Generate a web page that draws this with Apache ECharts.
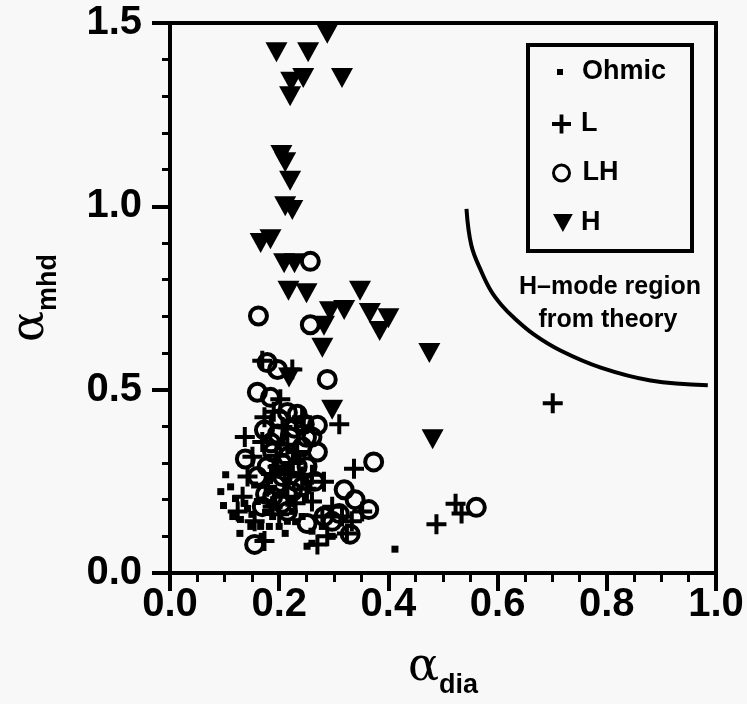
<!DOCTYPE html>
<html><head><meta charset="utf-8">
<script src="https://cdn.jsdelivr.net/npm/echarts@6/dist/echarts.min.js"></script>
<style>html,body{margin:0;padding:0;background:#f8f8f8}#c{width:747px;height:704px}</style>
</head><body><div id="c"></div>
<script>
// ---- data (alpha_dia, alpha_mhd) ----
const ohmicPts = [[0.102,0.268],[0.093,0.222],[0.111,0.235],[0.098,0.184],[0.120,0.203],[0.115,0.154],[0.129,0.146],[0.128,0.108],[0.148,0.127],[0.166,0.127],[0.182,0.127],[0.200,0.127],[0.211,0.108],[0.248,0.208],[0.260,0.081],[0.251,0.073],[0.412,0.065],[0.160,0.195],[0.178,0.222],[0.142,0.176],[0.224,0.168],[0.242,0.154],[0.188,0.154],[0.169,0.100],[0.215,0.141],[0.260,0.114],[0.297,0.100],[0.279,0.127],[0.137,0.190],[0.155,0.240],[0.190,0.200],[0.205,0.220],[0.230,0.140],[0.175,0.165],[0.150,0.160]];
const lPts = [[0.169,0.579],[0.224,0.555],[0.202,0.474],[0.173,0.425],[0.137,0.371],[0.310,0.406],[0.337,0.284],[0.282,0.249],[0.523,0.189],[0.534,0.162],[0.488,0.133],[0.701,0.463],[0.151,0.317],[0.142,0.263],[0.133,0.208],[0.124,0.168],[0.155,0.141],[0.173,0.087],[0.188,0.181],[0.215,0.208],[0.197,0.290],[0.233,0.330],[0.242,0.263],[0.260,0.268],[0.169,0.357],[0.206,0.398],[0.242,0.425],[0.178,0.235],[0.279,0.154],[0.288,0.100],[0.297,0.181],[0.315,0.154],[0.333,0.141],[0.324,0.108],[0.260,0.195],[0.352,0.168],[0.270,0.078],[0.190,0.440],[0.215,0.350],[0.225,0.300],[0.195,0.320],[0.250,0.230],[0.210,0.270],[0.185,0.270],[0.230,0.190],[0.200,0.160],[0.245,0.400]];
const lhPts = [[0.257,0.850],[0.162,0.701],[0.257,0.677],[0.288,0.528],[0.178,0.574],[0.197,0.555],[0.160,0.493],[0.184,0.479],[0.215,0.438],[0.233,0.433],[0.173,0.390],[0.197,0.379],[0.220,0.371],[0.246,0.406],[0.270,0.403],[0.138,0.311],[0.373,0.303],[0.155,0.078],[0.561,0.179],[0.188,0.330],[0.215,0.317],[0.242,0.344],[0.260,0.371],[0.178,0.290],[0.206,0.263],[0.233,0.290],[0.160,0.263],[0.224,0.222],[0.188,0.208],[0.251,0.290],[0.242,0.235],[0.169,0.181],[0.215,0.168],[0.270,0.330],[0.319,0.227],[0.339,0.200],[0.364,0.173],[0.310,0.162],[0.330,0.106],[0.282,0.154],[0.251,0.135],[0.297,0.141],[0.200,0.420],[0.228,0.395],[0.185,0.355],[0.250,0.370],[0.205,0.300],[0.230,0.250],[0.195,0.240],[0.265,0.250],[0.175,0.215],[0.205,0.190]];
const hPts = [[0.288,1.471],[0.195,1.42],[0.253,1.42],[0.315,1.35],[0.244,1.35],[0.222,1.34],[0.220,1.30],[0.204,1.14],[0.211,1.12],[0.220,1.07],[0.211,1.00],[0.224,0.99],[0.166,0.90],[0.184,0.91],[0.209,0.845],[0.228,0.845],[0.217,0.77],[0.250,0.763],[0.348,0.77],[0.293,0.714],[0.319,0.717],[0.366,0.709],[0.384,0.66],[0.40,0.695],[0.282,0.674],[0.279,0.614],[0.475,0.60],[0.218,0.533],[0.297,0.445],[0.481,0.365]];
const theoryCurve = [[0.543,0.993],[0.552,0.893],[0.570,0.823],[0.588,0.769],[0.607,0.731],[0.630,0.696],[0.667,0.650],[0.716,0.606],[0.789,0.560],[0.880,0.525],[0.985,0.512]];
const xTickLabels = ['0.0','0.2','0.4','0.6','0.8','1.0'];
const yTickLabels = ['0.0','0.5','1.0','1.5'];
const seriesNames = ['Ohmic','L','LH','H'];
const regionText = ['H\u2013mode region','from theory'];

const F = '"Liberation Sans", Arial, sans-serif';
const plusPath = 'path://M8,0L12,0L12,8L20,8L20,12L12,12L12,20L8,20L8,12L0,12L0,8L8,8Z';
const downTri = 'path://M0,0L22,0L11,20Z';
const chart = echarts.init(document.getElementById('c'));

function leg(name, icon, left, top, w, h, pad, itemStyle) {
  return {
    data: [{name: name, icon: icon}], left: left, top: top - 15, orient: 'vertical', padding: 0,
    itemWidth: w, itemHeight: h, selectedMode: false,
    itemStyle: itemStyle,
    textStyle: {fontFamily: F, fontWeight: 'bold', fontSize: 27, color: '#000', lineHeight: 30, padding: [0,0,0,pad]}
  };
}

const option = {
  backgroundColor: '#f8f8f8',
  animation: false,
  grid: {left: 167, right: 31, top: 23, bottom: 127, show: true, borderColor: '#000', borderWidth: 4},
  xAxis: {
    type: 'value', min: 0, max: 1, interval: 0.2,
    axisLine: {lineStyle: {color: '#000', width: 4}},
    axisTick: {length: 18, lineStyle: {color: '#000', width: 4}},
    minorTick: {show: true, splitNumber: 4, length: 9, lineStyle: {color: '#000', width: 3}},
    splitLine: {show: false},
    axisLabel: {formatter: v => xTickLabels[Math.round(v / 0.2)], fontFamily: F, fontWeight: 'bold', fontSize: 40, color: '#000', margin: 12},
    name: '{a|\u03b1}{s|dia}', nameLocation: 'middle', nameGap: 72,
    nameTextStyle: {rich: {
      a: {fontFamily: '"DejaVu Serif", serif', fontSize: 46, color: '#000', padding: [0,0,8,0]},
      s: {fontFamily: F, fontWeight: 'bold', fontSize: 27, color: '#000', verticalAlign: 'bottom'}
    }}
  },
  yAxis: {
    type: 'value', min: 0, max: 1.5, interval: 0.5,
    axisLine: {lineStyle: {color: '#000', width: 4}},
    axisTick: {length: 18, lineStyle: {color: '#000', width: 4}},
    minorTick: {show: true, splitNumber: 5, length: 8, lineStyle: {color: '#000', width: 3}},
    splitLine: {show: false},
    axisLabel: {formatter: v => yTickLabels[Math.round(v / 0.5)], fontFamily: F, fontWeight: 'bold', fontSize: 40, color: '#000', margin: 28},
    name: '{a|\u03b1}{s|mhd}', nameLocation: 'middle', nameGap: 108, nameRotate: 90,
    nameTextStyle: {rich: {
      a: {fontFamily: '"DejaVu Serif", serif', fontSize: 46, color: '#000', padding: [0,0,8,0]},
      s: {fontFamily: F, fontWeight: 'bold', fontSize: 27, color: '#000', verticalAlign: 'bottom'}
    }}
  },
  legend: [
    leg('Ohmic', 'rect', 557, 72, 6, 6, 14, {color: '#000', borderWidth: 0, opacity: 1}),
    leg('L', plusPath, 552, 124, 19, 19, 5, {color: '#000', borderWidth: 0, opacity: 1}),
    leg('LH', 'circle', 552, 173, 16, 16, 8, {color: 'rgba(0,0,0,0)', borderColor: '#000', borderWidth: 3, opacity: 1}),
    leg('H', downTri, 553, 223, 20, 18, 3, {color: '#000', borderWidth: 0, opacity: 1})
  ],
  graphic: [
    {type: 'rect', shape: {x: 528, y: 45, width: 164, height: 206}, style: {fill: 'none', stroke: '#000', lineWidth: 4}, silent: true},
    {type: 'text', x: 610, y: 287, style: {text: regionText[0], fill: '#000', font: 'bold 25px ' + F, textAlign: 'center', textVerticalAlign: 'middle'}},
    {type: 'text', x: 608, y: 320, style: {text: regionText[1], fill: '#000', font: 'bold 25px ' + F, textAlign: 'center', textVerticalAlign: 'middle'}}
  ],
  series: [
    {name: seriesNames[0], type: 'scatter', data: ohmicPts, symbol: 'rect', symbolSize: 7, itemStyle: {color: '#000', opacity: 1}, clip: false},
    {name: seriesNames[1], type: 'scatter', data: lPts, symbol: plusPath, symbolSize: 20, itemStyle: {color: '#000', opacity: 1}, clip: false},
    {name: seriesNames[2], type: 'scatter', data: lhPts, symbol: 'circle', symbolSize: 17, itemStyle: {color: 'rgba(0,0,0,0)', borderColor: '#000', borderWidth: 4, opacity: 1}, clip: false},
    {name: seriesNames[3], type: 'scatter', data: hPts, symbol: 'triangle', symbolRotate: 180, symbolSize: [22, 20], itemStyle: {color: '#000', opacity: 1}, clip: false},
    {name: 'theory', type: 'line', data: theoryCurve, smooth: 0.4, showSymbol: false, symbol: 'none', lineStyle: {color: '#000', width: 4}, silent: true}
  ]
};
chart.setOption(option);
</script></body></html>
